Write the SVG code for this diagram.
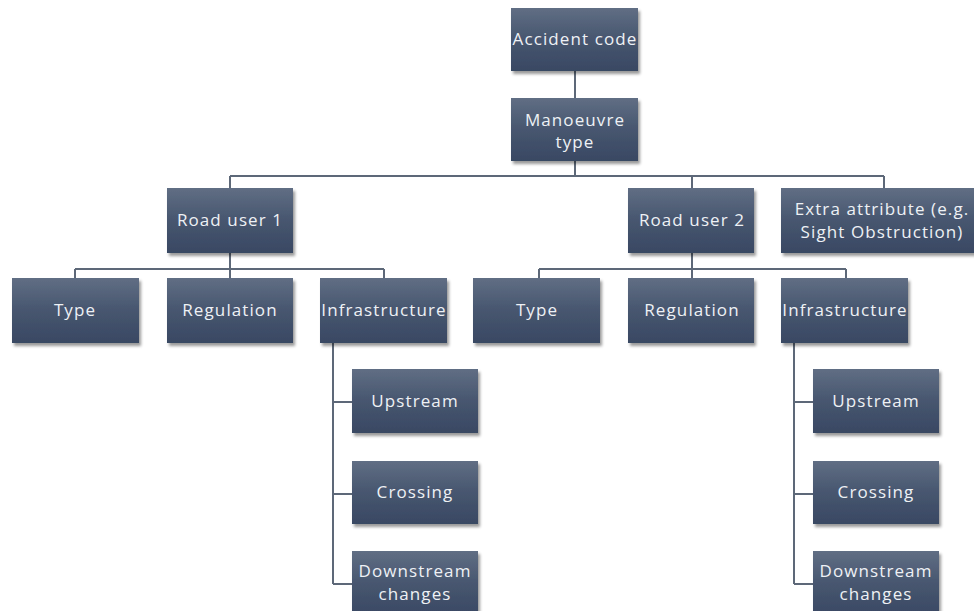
<svg xmlns="http://www.w3.org/2000/svg" width="974" height="611" viewBox="0 0 974 611">
  <defs>
    <linearGradient id="boxFill" x1="0" y1="0" x2="0" y2="1">
      <stop offset="0" stop-color="#606e84"/>
      <stop offset="0.5" stop-color="#47566f"/>
      <stop offset="1" stop-color="#394863"/>
    </linearGradient>
    <filter id="shadow" x="-10%" y="-10%" width="125%" height="130%">
      <feDropShadow dx="2" dy="3" stdDeviation="1.6" flood-color="#000" flood-opacity="0.4"/>
    </filter>
  </defs>
  <style>
    .box { fill: url(#boxFill); filter: url(#shadow); }
    .lbl { fill: #eef1f5; font-family: "Open Sans", "Liberation Sans", sans-serif; font-size: 17px; text-anchor: middle; letter-spacing: 1.1px; }
    .conn { fill: none; stroke: #5d6878; stroke-width: 2; }
  </style>
  <rect width="974" height="611" fill="#ffffff"/>

  <g id="connectors">
    <path class="conn" d="M575 71 V98"/>
    <path class="conn" d="M575 161 V176 M230 176 H884 M230 176 V188 M692 176 V188 M884 176 V188"/>
    <path class="conn" d="M230 253 V269 M75 269 H384 M75 269 V278 M230 269 V278 M384 269 V278"/>
    <path class="conn" d="M692 253 V269 M539 269 H846 M539 269 V278 M692 269 V278 M846 269 V278"/>
    <path class="conn" d="M333 343 V584 M333 402 H352 M333 494 H352 M333 584 H352"/>
    <path class="conn" d="M794 343 V584 M794 402 H813 M794 494 H813 M794 584 H813"/>
  </g>

  <g id="accident-code"><rect class="box" x="511" y="8" width="127" height="63"/><text class="lbl" x="575" y="45">Accident code</text></g>
  <g id="manoeuvre-type"><rect class="box" x="511" y="98" width="127" height="63"/><text class="lbl" x="575" y="126">Manoeuvre</text><text class="lbl" x="575" y="148">type</text></g>

  <g id="road-user-1"><rect class="box" x="167" y="188" width="126" height="65"/><text class="lbl" x="230" y="226">Road user 1</text></g>
  <g id="road-user-2"><rect class="box" x="628" y="188" width="126" height="65"/><text class="lbl" x="692" y="226">Road user 2</text></g>
  <g id="extra-attribute"><rect class="box" x="781" y="188" width="206" height="65"/><text class="lbl" x="882" y="215">Extra attribute (e.g.</text><text class="lbl" x="882" y="238">Sight Obstruction)</text></g>

  <g id="type-1"><rect class="box" x="12" y="278" width="127" height="65"/><text class="lbl" x="75" y="316">Type</text></g>
  <g id="regulation-1"><rect class="box" x="167" y="278" width="126" height="65"/><text class="lbl" x="230" y="316">Regulation</text></g>
  <g id="infrastructure-1"><rect class="box" x="320" y="278" width="127" height="65"/><text class="lbl" x="384" y="316">Infrastructure</text></g>

  <g id="type-2"><rect class="box" x="473" y="278" width="127" height="65"/><text class="lbl" x="537" y="316">Type</text></g>
  <g id="regulation-2"><rect class="box" x="628" y="278" width="126" height="65"/><text class="lbl" x="692" y="316">Regulation</text></g>
  <g id="infrastructure-2"><rect class="box" x="781" y="278" width="127" height="65"/><text class="lbl" x="845" y="316">Infrastructure</text></g>

  <g id="upstream-1"><rect class="box" x="352" y="369" width="126" height="64"/><text class="lbl" x="415" y="407">Upstream</text></g>
  <g id="crossing-1"><rect class="box" x="352" y="461" width="126" height="63"/><text class="lbl" x="415" y="498">Crossing</text></g>
  <g id="downstream-1"><rect class="box" x="352" y="551" width="126" height="66"/><text class="lbl" x="415" y="577">Downstream</text><text class="lbl" x="415" y="600">changes</text></g>

  <g id="upstream-2"><rect class="box" x="813" y="369" width="126" height="64"/><text class="lbl" x="876" y="407">Upstream</text></g>
  <g id="crossing-2"><rect class="box" x="813" y="461" width="126" height="63"/><text class="lbl" x="876" y="498">Crossing</text></g>
  <g id="downstream-2"><rect class="box" x="813" y="551" width="126" height="66"/><text class="lbl" x="876" y="577">Downstream</text><text class="lbl" x="876" y="600">changes</text></g>
</svg>
